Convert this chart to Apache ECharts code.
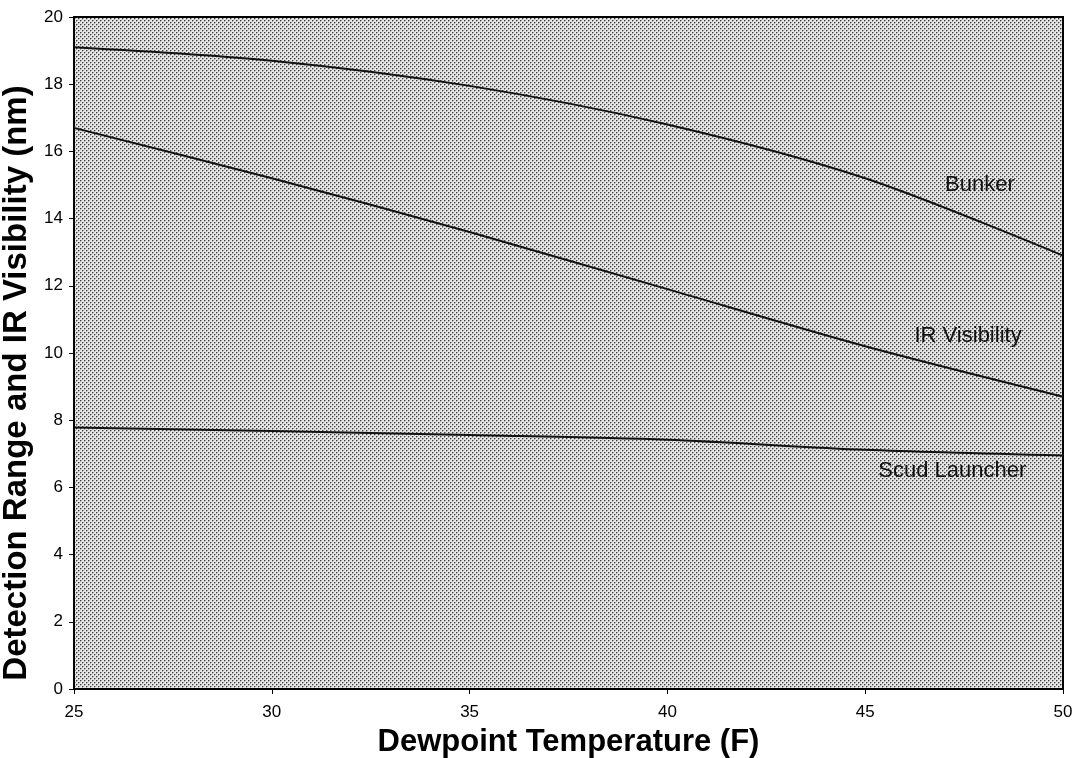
<!DOCTYPE html>
<html>
<head>
<meta charset="utf-8">
<script src="https://cdn.jsdelivr.net/npm/echarts@6/dist/echarts.min.js"></script>
<style>
  html, body { margin: 0; padding: 0; background: #fff; overflow: hidden; }
  #chart { width: 1073px; height: 758px; }
</style>
</head>
<body>
<div id="chart"></div>
<script>
// dewpoint temperature (F)
const dewpoints = [25, 30, 35, 40, 45, 50]
const bunker = [19.1, 18.7, 17.95, 16.8, 15.2, 12.9]
const irVisibility = [16.7, 15.2, 13.6, 11.9, 10.2, 8.7]
const scudLauncher = [7.78, 7.68, 7.56, 7.42, 7.12, 6.95]
const seriesNames = ['Bunker', 'IR Visibility', 'Scud Launcher']
// where each curve label sits, in data units
const labelSpots = [[47.9, 15.0], [47.6, 10.5], [47.2, 6.48]]

const font = '"Liberation Sans", Arial, sans-serif'

// halftone dot pattern for the plot area
const makePattern = () => {
  const c = document.createElement('canvas')
  c.width = 4
  c.height = 4
  const ctx = c.getContext('2d')
  ctx.fillStyle = '#e6e6e6'
  ctx.fillRect(0, 0, 4, 4)
  ctx.fillStyle = '#a0a0a0'
  ctx.fillRect(1, 0, 1, 1)
  ctx.fillRect(0, 1, 1, 1)
  ctx.fillRect(3, 2, 1, 1)
  ctx.fillRect(2, 3, 1, 1)
  ctx.fillStyle = '#404040'
  ctx.fillRect(0, 0, 1, 1)
  ctx.fillRect(2, 2, 1, 1)
  return { image: c, repeat: 'repeat' }
}

const chart = echarts.init(document.getElementById('chart'))

const allSeries = [bunker, irVisibility, scudLauncher].map((vals, i) => ({
  name: seriesNames[i],
  type: 'line',
  smooth: 0.3,
  symbol: 'none',
  data: dewpoints.map((d, j) => [d, vals[j]]),
  lineStyle: { color: '#111', width: 2 },
  markPoint: {
    symbol: 'circle',
    symbolSize: 1,
    silent: true,
    itemStyle: { color: 'rgba(0,0,0,0)' },
    data: [{ coord: labelSpots[i], value: 0 }],
    label: {
      show: true,
      position: 'inside',
      formatter: seriesNames[i],
      color: '#111',
      fontFamily: font,
      fontSize: 22
    }
  }
}))

chart.setOption({
  animation: false,
  grid: {
    left: 74,
    right: 10,
    top: 17,
    bottom: 69,
    outerBoundsMode: 'none',
    containLabel: false,
    show: true,
    backgroundColor: makePattern(),
    borderColor: '#000',
    borderWidth: 2
  },
  xAxis: {
    type: 'value',
    min: 25,
    max: 50,
    interval: 5,
    name: 'Dewpoint Temperature (F)',
    nameLocation: 'middle',
    nameGap: 38,
    nameTextStyle: { color: '#000', fontFamily: font, fontSize: 31, fontWeight: 'bold' },
    axisLine: { show: true, lineStyle: { color: '#000', width: 2 } },
    axisTick: { show: true, length: 5, lineStyle: { color: '#000', width: 1 } },
    axisLabel: { color: '#000', fontFamily: font, fontSize: 17, margin: 15 },
    splitLine: { show: false }
  },
  yAxis: {
    type: 'value',
    min: 0,
    max: 20,
    interval: 2,
    name: 'Detection Range and IR Visibility (nm)',
    nameLocation: 'middle',
    nameGap: 33,
    nameTextStyle: {
      color: '#000',
      fontFamily: font,
      fontSize: 33,
      fontWeight: 'bold',
      // nudge the title down a little, like the original
      padding: [0, 60, 0, 0]
    },
    axisLine: { show: true, lineStyle: { color: '#000', width: 2 } },
    axisTick: { show: true, length: 5, lineStyle: { color: '#000', width: 1 } },
    axisLabel: { color: '#000', fontFamily: font, fontSize: 17, margin: 11 },
    splitLine: { show: false }
  },
  series: allSeries
})
</script>
</body>
</html>
